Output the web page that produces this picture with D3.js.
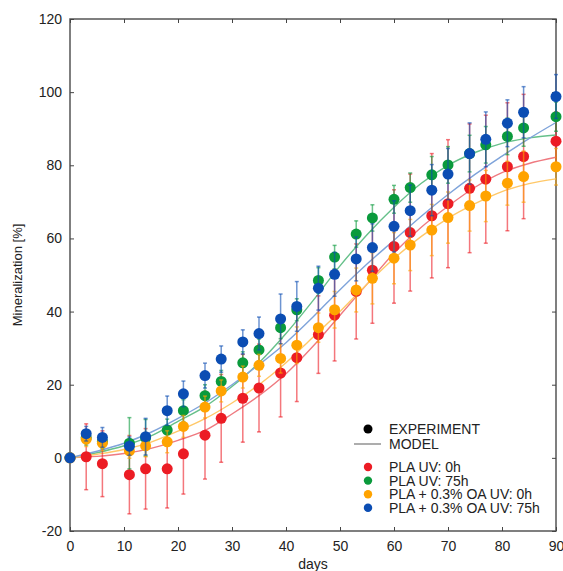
<!DOCTYPE html>
<html>
<head>
<meta charset="utf-8">
<script src="https://cdn.jsdelivr.net/npm/d3@7"></script>
<style>
  body { margin: 0; background: #fff; }
  text { font-family: "Liberation Sans", Arial, sans-serif; fill: #222; }
</style>
</head>
<body>
<div id="chart"></div>
<script>
const width = 563;
const height = 571;
const margin = { top: 19, right: 7, bottom: 40, left: 70 };

// measurement days
const days = [0, 3, 6, 11, 14, 18, 21, 25, 28, 32, 35, 39, 42, 46, 49, 53, 56, 60, 63, 67, 70, 74, 77, 81, 84, 90];

// experiment values (mineralization %)
const plaUV0 = [0, 0.3, -1.6, -4.6, -3, -3, 1.1, 6.2, 10.8, 16.3, 19.1, 23.2, 27.4, 33.7, 39.0, 45.5, 51.3, 57.8, 61.6, 66.2, 69.5, 73.7, 76.2, 79.6, 82.4, 86.6];
const plaUV75 = [0, 5.5, 4.5, 4.0, 5.5, 7.6, 12.9, 17.0, 20.9, 26.0, 29.5, 35.6, 40.5, 48.5, 54.9, 61.2, 65.6, 70.7, 73.9, 77.4, 80.1, 83.2, 85.6, 87.9, 90.2, 93.3];
const oaUV0 = [0, 5.1, 4.0, 1.9, 3.3, 4.4, 8.6, 13.9, 18.3, 22.1, 25.3, 27.2, 30.8, 35.6, 40.5, 45.9, 49.1, 54.6, 58.2, 62.3, 65.7, 69.0, 71.6, 75.1, 76.9, 79.6];
const oaUV75 = [0, 6.6, 5.6, 3.2, 5.8, 12.9, 17.5, 22.5, 27.0, 31.7, 34.0, 38.0, 41.4, 46.4, 50.2, 54.4, 57.5, 63.3, 67.6, 73.2, 77.6, 83.2, 87.1, 91.5, 94.5, 98.8];

// standard deviations
const plaUV0Err = [0, 9, 9, 10.7, 11, 10.7, 11, 12, 12, 12, 12, 12, 12, 10.6, 12.5, 13, 14.5, 15.5, 16, 17, 17.5, 17.6, 17.5, 17.5, 17, 8];
const plaUV75Err = [0, 2, 2, 7, 5, 3, 3, 3, 3, 3, 3, 3, 3, 3.5, 3.2, 3.6, 3.6, 3.8, 4, 5, 5, 5, 5, 5, 5, 4];
const oaUV0Err = [0, 2, 2, 2, 3, 3, 3, 3, 3, 3, 3, 4, 5, 4, 5, 6, 7, 7, 7, 7, 7, 7, 7, 6, 7, 5];
const oaUV75Err = [0, 2, 2.7, 2.5, 5, 4, 3.5, 3.4, 3.6, 3.3, 4.5, 6.8, 6.8, 6, 6, 6, 6.5, 7, 7, 7, 7, 8.4, 7.5, 6.4, 7, 6];

// model curves
const modelDays = [0, 5, 10, 15, 20, 25, 30, 35, 40, 45, 50, 55, 60, 65, 70, 75, 80, 85, 90];
const plaUV0Model = [0, 0.4, 1.2, 2.6, 4.8, 7.5, 12, 17, 23, 30.5, 39, 47.5, 56, 63, 68.8, 74, 78, 80.5, 82.2];
const plaUV75Model = [0, 1.4, 3.3, 6, 10, 14, 19.5, 26, 34, 43, 52.5, 61, 68.5, 75, 80, 83.5, 86, 87.5, 88.3];
const oaUV0Model = [0, 1, 2.3, 4.3, 7.3, 10.7, 15, 20, 26, 33, 40, 47.5, 54.5, 60.5, 65.5, 69.5, 72.8, 75, 76.3];
const oaUV75Model = [0, 1.8, 4, 7, 10.8, 15, 20, 25.5, 31.5, 38.5, 46, 53, 59.5, 66, 72, 77.5, 82.5, 87.3, 91.7];

const seriesNames = ["PLA UV: 0h", "PLA UV: 75h", "PLA + 0.3% OA UV: 0h", "PLA + 0.3% OA UV: 75h"];
const xTicks = [0, 10, 20, 30, 40, 50, 60, 70, 80, 90];
const yTicks = [-20, 0, 20, 40, 60, 80, 100, 120];

const series = [
  { name: seriesNames[0], values: plaUV0, err: plaUV0Err, model: plaUV0Model, color: "#ec1c24", line: "#ef7a80" },
  { name: seriesNames[1], values: plaUV75, err: plaUV75Err, model: plaUV75Model, color: "#0a9a3c", line: "#66c08a" },
  { name: seriesNames[2], values: oaUV0, err: oaUV0Err, model: oaUV0Model, color: "#ffa300", line: "#ffc868" },
  { name: seriesNames[3], values: oaUV75, err: oaUV75Err, model: oaUV75Model, color: "#0b4db3", line: "#7ea3da" }
];

const svg = d3.select("#chart").append("svg")
  .attr("width", width)
  .attr("height", height);

const x = d3.scaleLinear().domain([0, 90]).range([margin.left, width - margin.right]);
const y = d3.scaleLinear().domain([-20, 120]).range([height - margin.bottom, margin.top]);

// frame
svg.append("rect")
  .attr("x", x(0)).attr("y", y(120))
  .attr("width", x(90) - x(0)).attr("height", y(-20) - y(120))
  .attr("fill", "none").attr("stroke", "#555").attr("stroke-width", 1.5);

// axes with inward ticks
const axisStyle = g => {
  g.select(".domain").remove();
  g.selectAll(".tick line").attr("stroke", "#444");
  g.selectAll(".tick text").attr("font-size", 14).attr("fill", "#222")
    .attr("font-family", "Liberation Sans, Arial, sans-serif");
};
const plain = d => String(d);   // keep a plain hyphen for negatives

svg.append("g")
  .attr("transform", `translate(0,${y(-20)})`)
  .call(d3.axisBottom(x).tickValues(xTicks).tickSize(-4).tickPadding(10).tickFormat(plain))
  .call(axisStyle);

svg.append("g")
  .attr("transform", `translate(0,${y(120)})`)
  .call(d3.axisTop(x).tickValues(xTicks).tickSize(-4).tickFormat(""))
  .call(axisStyle);

svg.append("g")
  .attr("transform", `translate(${x(0)},0)`)
  .call(d3.axisLeft(y).tickValues(yTicks).tickSize(-4).tickPadding(8).tickFormat(plain))
  .call(axisStyle);

svg.append("g")
  .attr("transform", `translate(${x(90)},0)`)
  .call(d3.axisRight(y).tickValues(yTicks).tickSize(-4).tickFormat(""))
  .call(axisStyle);

// axis titles
svg.append("text")
  .attr("x", (x(0) + x(90)) / 2)
  .attr("y", height - 2)
  .attr("text-anchor", "middle")
  .attr("font-size", 14)
  .text("days");

svg.append("text")
  .attr("transform", `translate(22,${y(50)}) rotate(-90)`)
  .attr("text-anchor", "middle")
  .attr("font-size", 13)
  .attr("fill", "#333")
  .text("Mineralization [%]");

// model curves
const line = d3.line()
  .x((d, i) => x(modelDays[i]))
  .y(d => y(d))
  .curve(d3.curveMonotoneX);

svg.append("g").selectAll("path")
  .data(series)
  .join("path")
  .attr("d", d => line(d.model))
  .attr("fill", "none")
  .attr("stroke", d => d.line)
  .attr("stroke-width", 1.4);

// error bars and points, one group per series
series.forEach(s => {
  const g = svg.append("g");
  const pts = days.map((t, i) => ({ t, v: s.values[i], e: s.err[i] }));
  const bars = pts.filter(p => p.e > 0);

  g.selectAll("line.bar")
    .data(bars)
    .join("line")
    .attr("class", "bar")
    .attr("x1", d => x(d.t)).attr("x2", d => x(d.t))
    .attr("y1", d => y(d.v - d.e)).attr("y2", d => y(d.v + d.e))
    .attr("stroke", s.color).attr("stroke-opacity", 0.6).attr("stroke-width", 1.5);

  g.selectAll("line.cap")
    .data(bars.flatMap(d => [d.v - d.e, d.v + d.e].map(v => ({ t: d.t, v }))))
    .join("line")
    .attr("class", "cap")
    .attr("x1", d => x(d.t) - 2).attr("x2", d => x(d.t) + 2)
    .attr("y1", d => y(d.v)).attr("y2", d => y(d.v))
    .attr("stroke", s.color).attr("stroke-opacity", 0.6).attr("stroke-width", 1.5);

  g.selectAll("circle")
    .data(pts)
    .join("circle")
    .attr("cx", d => x(d.t))
    .attr("cy", d => y(d.v))
    .attr("r", 5.5)
    .attr("fill", s.color);
});

// legend
const legend = svg.append("g").attr("font-size", 14);
legend.append("circle").attr("cx", 368).attr("cy", 429).attr("r", 4.5).attr("fill", "#000");
legend.append("text").attr("x", 389).attr("y", 434).text("EXPERIMENT");
legend.append("line").attr("x1", 354).attr("x2", 381).attr("y1", 444).attr("y2", 444)
  .attr("stroke", "#777").attr("stroke-width", 1.2);
legend.append("text").attr("x", 389).attr("y", 449).text("MODEL");

legend.selectAll("g.item")
  .data(series)
  .join("g")
  .attr("class", "item")
  .attr("transform", (d, i) => `translate(0,${467 + i * 13.6})`)
  .each(function(d) {
    const item = d3.select(this);
    item.append("circle").attr("cx", 368).attr("cy", 0).attr("r", 4.2).attr("fill", d.color);
    item.append("text").attr("x", 389).attr("y", 5).text(d.name);
  });
</script>
</body>
</html>
